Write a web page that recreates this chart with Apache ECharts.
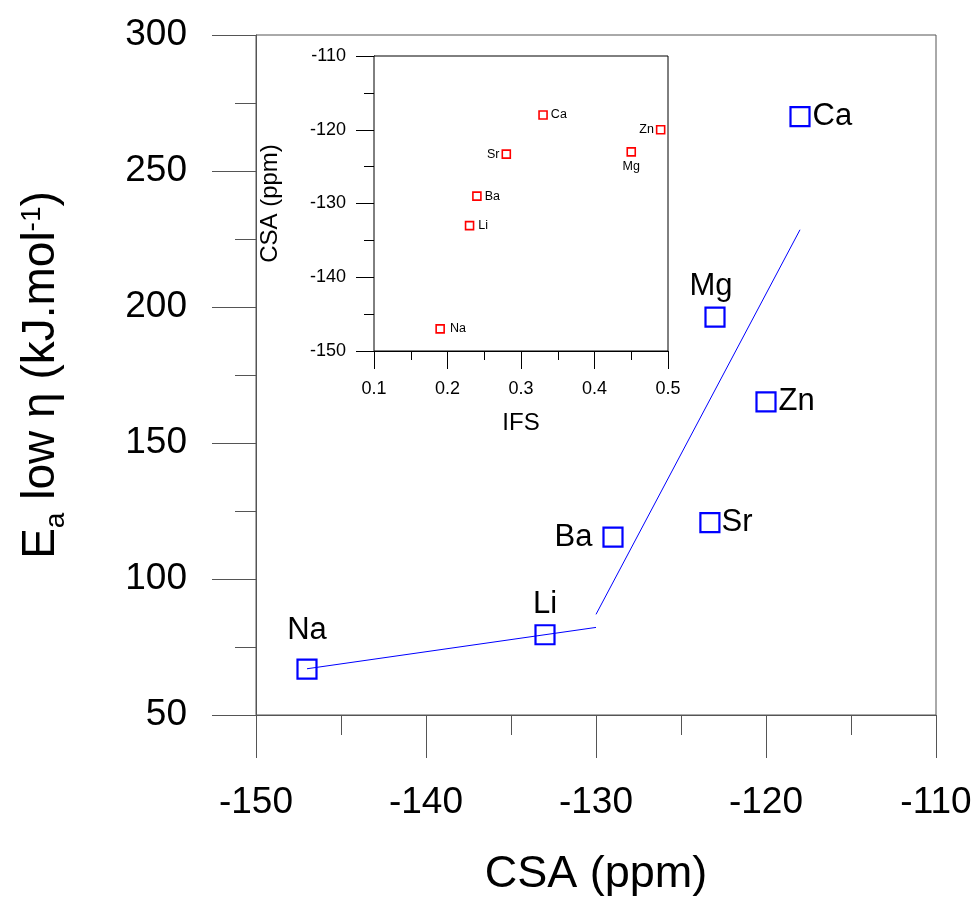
<!DOCTYPE html>
<html>
<head>
<meta charset="utf-8">
<script src="https://cdn.jsdelivr.net/npm/echarts@6/dist/echarts.min.js"></script>
<style>html,body{margin:0;padding:0;background:#fff}#c{width:980px;height:904px}</style>
</head>
<body>
<div id="c"></div>
<script>
// ---- data ----
const elements = ['Na', 'Li', 'Ba', 'Sr', 'Mg', 'Zn', 'Ca'];
const csa = [-147, -133, -129, -123.3, -123, -120, -118];
const eaLow = [66.9, 79.5, 115.4, 120.7, 196.3, 165.1, 270];
const ifs = [0.19, 0.23, 0.24, 0.28, 0.45, 0.49, 0.33];
const fitLowX = [-147, -130];
const fitLowY = [67, 82.2];
const fitHighX = [-130, -118];
const fitHighY = [87, 228.4];
const mainXTicks = [-150, -110, 10];
const mainYTicks = [50, 300, 50];
const insetXTicks = [0.1, 0.5, 0.1];
const insetYTicks = [-150, -110, 10];

// ---- styles ----
const FONT = '"Liberation Sans", Arial, Helvetica, sans-serif';
const mainLabelPos = {
  Na: {position: 'top', distance: 12}, Li: {position: 'top', distance: 4},
  Ba: {position: 'left', distance: 10}, Sr: {position: 'right', distance: 1},
  Mg: {position: 'top', distance: 5, offset: [-4, 0]}, Zn: {position: 'right', distance: 2},
  Ca: {position: 'right', distance: 2}
};
const insetLabelPos = {
  Na: {position: 'right', distance: 5}, Li: {position: 'right', distance: 4},
  Ba: {position: 'right', distance: 3}, Sr: {position: 'left', distance: 2},
  Mg: {position: 'bottom', distance: 3}, Zn: {position: 'left', distance: 2},
  Ca: {position: 'right', distance: 3}
};

const mainPts = elements.map((e, i) => ({
  value: [csa[i], eaLow[i]], name: e,
  label: Object.assign({show: true, formatter: e, color: '#000', fontSize: 31, fontFamily: FONT}, mainLabelPos[e])
}));
const insetPts = elements.map((e, i) => ({
  value: [ifs[i], csa[i]], name: e,
  label: Object.assign({show: true, formatter: e, color: '#000', fontSize: 12.5, fontFamily: FONT}, insetLabelPos[e])
}));

const chart = echarts.init(document.getElementById('c'), null, {renderer: 'canvas'});
const axisGrey = '#555';
chart.setOption({
  animation: false,
  backgroundColor: '#fff',
  textStyle: {fontFamily: FONT},
  grid: [
    {left: 256, top: 35, width: 680, height: 680, show: true, borderColor: axisGrey, borderWidth: 1, backgroundColor: 'transparent'},
    {left: 374, top: 56, width: 294, height: 295, show: true, borderColor: '#000', borderWidth: 1, backgroundColor: '#fff', z: 5}
  ],
  xAxis: [
    {
      gridIndex: 0, type: 'value', min: mainXTicks[0], max: mainXTicks[1], interval: mainXTicks[2],
      axisLine: {show: true, lineStyle: {color: axisGrey, width: 1}},
      axisTick: {show: true, length: 43, lineStyle: {color: axisGrey}},
      minorTick: {show: true, splitNumber: 2, length: 20, lineStyle: {color: axisGrey}},
      splitLine: {show: false},
      axisLabel: {fontSize: 37, color: '#000', margin: 69, fontFamily: FONT},
      name: 'CSA (ppm)', nameLocation: 'middle', nameGap: 137,
      nameTextStyle: {fontSize: 45, color: '#000', fontFamily: FONT}
    },
    {
      gridIndex: 1, type: 'value', min: insetXTicks[0], max: insetXTicks[1], interval: insetXTicks[2],
      axisLine: {show: true, lineStyle: {color: '#000', width: 1}},
      axisTick: {show: true, length: 18, lineStyle: {color: '#000'}},
      minorTick: {show: true, splitNumber: 2, length: 9, lineStyle: {color: '#000'}},
      splitLine: {show: false},
      axisLabel: {fontSize: 18, color: '#000', margin: 29, fontFamily: FONT, formatter: v => v.toFixed(1)},
      name: 'IFS', nameLocation: 'middle', nameGap: 60,
      nameTextStyle: {fontSize: 24, color: '#000', fontFamily: FONT}
    }
  ],
  yAxis: [
    {
      gridIndex: 0, type: 'value', min: mainYTicks[0], max: mainYTicks[1], interval: mainYTicks[2],
      axisLine: {show: true, lineStyle: {color: axisGrey, width: 1}},
      axisTick: {show: true, length: 44, lineStyle: {color: axisGrey}},
      minorTick: {show: true, splitNumber: 2, length: 21, lineStyle: {color: axisGrey}},
      splitLine: {show: false},
      axisLabel: {fontSize: 37, color: '#000', margin: 69, fontFamily: FONT},
      name: '{m|E}{s|a}{m| low η (kJ.mol}{p|-1}{m|)}', nameLocation: 'middle', nameGap: 192,
      nameTextStyle: {
        color: '#000', fontFamily: FONT,
        rich: {
          m: {fontSize: 46, lineHeight: 46, verticalAlign: 'top', fontFamily: FONT, color: '#000'},
          s: {fontSize: 28, lineHeight: 28, padding: [24, 0, 0, 0], verticalAlign: 'top', fontFamily: FONT, color: '#000'},
          p: {fontSize: 28, lineHeight: 28, verticalAlign: 'top', fontFamily: FONT, color: '#000'}
        }
      }
    },
    {
      gridIndex: 1, type: 'value', min: insetYTicks[0], max: insetYTicks[1], interval: insetYTicks[2],
      axisLine: {show: true, lineStyle: {color: '#000', width: 1}},
      axisTick: {show: true, length: 18, lineStyle: {color: '#000'}},
      minorTick: {show: true, splitNumber: 2, length: 10, lineStyle: {color: '#000'}},
      splitLine: {show: false},
      axisLabel: {fontSize: 18, color: '#000', margin: 28, fontFamily: FONT},
      name: 'CSA (ppm)', nameLocation: 'middle', nameGap: 92,
      nameTextStyle: {fontSize: 24, color: '#000', fontFamily: FONT}
    }
  ],
  series: [
    {
      type: 'line', xAxisIndex: 0, yAxisIndex: 0, symbol: 'none',
      data: fitLowX.map((x, i) => [x, fitLowY[i]]),
      lineStyle: {color: '#0000ff', width: 1}, z: 2
    },
    {
      type: 'line', xAxisIndex: 0, yAxisIndex: 0, symbol: 'none',
      data: fitHighX.map((x, i) => [x, fitHighY[i]]),
      lineStyle: {color: '#0000ff', width: 1}, z: 2
    },
    {
      type: 'scatter', xAxisIndex: 0, yAxisIndex: 0, symbol: 'rect', symbolSize: 19,
      itemStyle: {color: 'rgba(0,0,0,0)', borderColor: '#0000ff', borderWidth: 2.2, opacity: 1},
      emphasis: {disabled: true},
      label: {fontSize: 31, color: '#000', fontFamily: FONT},
      data: mainPts, z: 3
    },
    {
      type: 'scatter', xAxisIndex: 1, yAxisIndex: 1, symbol: 'rect', symbolSize: 8,
      itemStyle: {color: 'rgba(0,0,0,0)', borderColor: '#ff0000', borderWidth: 1.6, opacity: 1},
      emphasis: {disabled: true},
      label: {fontSize: 12.5, color: '#000', fontFamily: FONT},
      data: insetPts, z: 6
    }
  ]
});
</script>
</body>
</html>
